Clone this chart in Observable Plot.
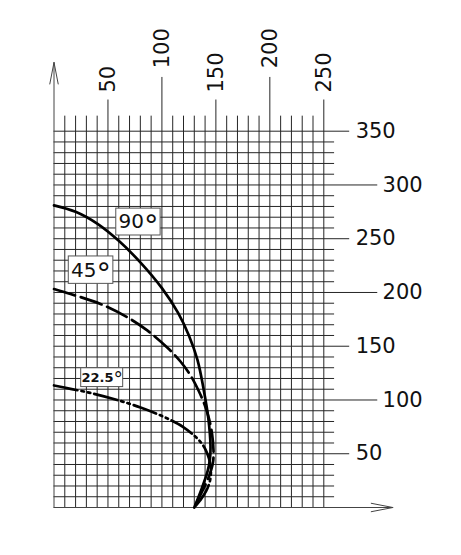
<!DOCTYPE html>
<html>
<head>
<meta charset="utf-8">
<script src="https://cdn.jsdelivr.net/npm/d3@7"></script>
<script src="https://cdn.jsdelivr.net/npm/@observablehq/plot@0.6"></script>
<style>
  html, body { margin: 0; padding: 0; background: #fff; }
  #chart svg { display: block; }
</style>
</head>
<body>
<div id="chart"></div>
<script>
// ---- tick labels ----
const xTicks = [50, 100, 150, 200, 250];
const yTicks = [50, 100, 150, 200, 250, 300, 350];

// ---- curves (x, y) ----
const curve90 = [[0,281],[20,275],[40,264],[60,248],[80,228],[100,204],[115,181],[125,160],[133,137],[139,108],[143,83],[145,58],[144.5,45],[142.4,34],[136.5,16.5],[130,0]];
const curve45 = [[0,203.2],[15.3,198.6],[43.1,189.3],[67.8,177],[86.4,164.7],[104.9,148.8],[117.2,135.8],[126.5,122.8],[133.9,108.8],[139.5,95.8],[143.6,82.8],[146.4,68.8],[147.8,53],[147.3,41.9],[143.2,27.9],[137.3,14.9],[130,0]];
const curve22 = [[0,113.5],[15.3,110.4],[36.9,105.8],[58.6,100],[80.2,93],[95.6,87],[107.9,81.4],[119.1,75.3],[129.3,67.4],[135.8,60.9],[140.4,53.9],[143.6,45.6],[145.3,36.3],[144.6,25.1],[140.8,14.9],[135.3,6.5],[130,0]];

// ---- series labels ----
const seriesNames = ["90°", "45°", "22.5°"];

// ---- build tables ----
const toRows = pts => pts.map(([x, y]) => ({x, y}));

const vGrid = d3.range(10, 251, 10);
const hGrid = d3.range(10, 351, 10);
const vTop = x => x % 100 === 0 ? 400 : x % 50 === 0 ? 379 : 364;
const hRight = y => y % 100 === 0 ? 300 : y % 50 === 0 ? 274 : 260;

const bigLabels = [
  {text: seriesNames[0], x1: 57.7, x2: 98.8, y1: 253, y2: 278},
  {text: seriesNames[1], x1: 13.7, x2: 55, y1: 208, y2: 233.5}
];
const smallLabels = [
  {text: seriesNames[2], x1: 25.2, x2: 64.1, y1: 112, y2: 129.5}
];

const axes = [
  {x1: 0, y1: 0, x2: 0, y2: 414},
  {x1: 0, y1: 0, x2: 314, y2: 0}
];

const ink = "#262626";
const font = "DejaVu Sans, Verdana, sans-serif";
const cx = d => (d.x1 + d.x2) / 2, cy = d => (d.y1 + d.y2) / 2;

const chart = Plot.plot({
  width: 461,
  height: 555,
  style: {fontFamily: font, background: "#fff"},
  x: {domain: [0, 250], range: [53.5, 323.3], axis: null},
  y: {domain: [0, 350], range: [507, 130.7], axis: null},
  marks: [
    Plot.ruleX(vGrid, {x: d => d, y1: 0, y2: vTop, stroke: ink, strokeWidth: 1}),
    Plot.ruleY(hGrid, {y: d => d, x1: 0, x2: hRight, stroke: ink, strokeWidth: 1}),
    Plot.arrow(axes, {x1: "x1", y1: "y1", x2: "x2", y2: "y2", stroke: "#444", strokeWidth: 1, headAngle: 22, headLength: 33}),
    Plot.text(xTicks, {x: d => d, y: d => d % 100 === 0 ? 408.5 : 386, text: d => String(d), rotate: -90, textAnchor: "start", lineAnchor: "middle", fontSize: 21, fill: "#111"}),
    Plot.text(yTicks, {x: d => d % 100 === 0 ? 304.5 : 279.5, y: d => d, text: d => String(d), textAnchor: "start", lineAnchor: "middle", fontSize: 21, fill: "#111"}),
    Plot.line(toRows(curve90), {x: "x", y: "y", stroke: "#000", strokeWidth: 2.7, curve: "catmull-rom"}),
    Plot.line(toRows(curve45), {x: "x", y: "y", stroke: "#000", strokeWidth: 2.7, curve: "catmull-rom", strokeDasharray: "22,6"}),
    Plot.line(toRows(curve22), {x: "x", y: "y", stroke: "#000", strokeWidth: 2.7, curve: "catmull-rom", strokeDasharray: "24,4,2.5,4,2.5,4"}),
    Plot.rect(bigLabels.concat(smallLabels), {x1: "x1", x2: "x2", y1: "y1", y2: "y2", fill: "#fff", stroke: "#555", strokeWidth: 1}),
    Plot.text(bigLabels, {x: cx, y: cy, text: "text", fontSize: 20, fill: "#111", lineAnchor: "middle", className: "deg20"}),
    Plot.text(smallLabels, {x: cx, y: cy, text: "text", fontSize: 13, fontWeight: "bold", fill: "#111", lineAnchor: "middle", className: "deg13"})
  ]
});

// enlarge the degree sign like a raised "o"
[["deg20", 20], ["deg13", 13]].forEach(([cls, size]) => {
  d3.select(chart).selectAll("g." + cls + " text").each(function () {
    const t = this.textContent;
    if (t.endsWith("°")) {
      this.textContent = t.slice(0, -1);
      d3.select(this).append("tspan")
        .attr("font-size", (size * 1.45) + "px")
        .attr("font-weight", "normal")
        .attr("dy", (size * 0.33) + "px")
        .text("°");
    }
  });
});
document.getElementById("chart").appendChild(chart);
</script>
</body>
</html>
